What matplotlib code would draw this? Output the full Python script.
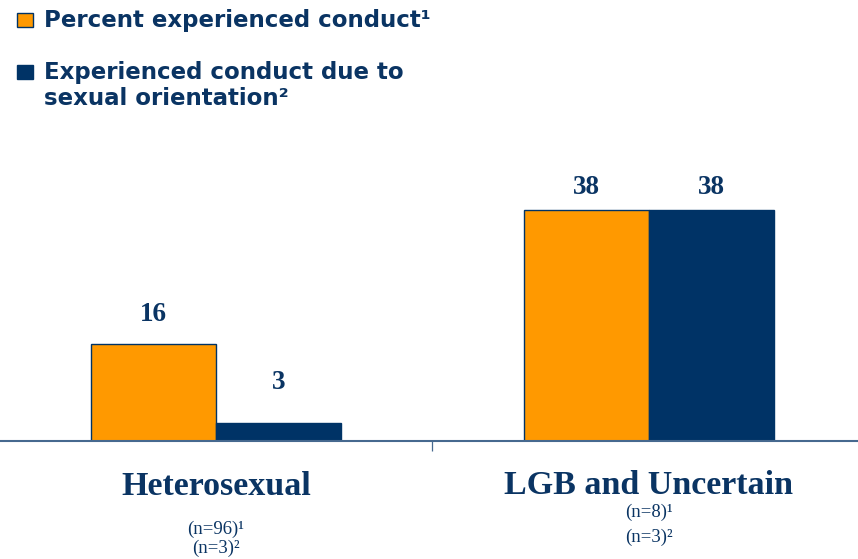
import matplotlib.pyplot as plt
from matplotlib.patches import Rectangle
from matplotlib.transforms import blended_transform_factory

categories = ["Heterosexual", "LGB and Uncertain"]
pct_conduct = [16, 38]
pct_due_to_orientation = [3, 38]
n_labels = [["(n=96)\u00b9", "(n=3)\u00b2"], ["(n=8)\u00b9", "(n=3)\u00b2"]]
series_names = [["Percent experienced conduct\u00b9"],
                ["Experienced conduct due to", "sexual orientation\u00b2"]]

ORANGE = "#FF9900"
NAVY = "#003366"
TEXT = "#0A3463"
LINE = "#46698F"
W, H = 858, 559


def fy(px):
    # pixel row from top -> figure fraction
    return 1 - px / H


def main():
    fig = plt.figure(figsize=(W / 100, H / 100), dpi=100)
    ax = fig.add_axes([0, 118 / H, 1, 419 / H])
    ax.set_xlim(-0.499, 1.483)
    ax.set_ylim(0, 419 / 6.08)

    w = 0.288
    xs = range(len(categories))
    b1 = ax.bar([x - w / 2 for x in xs], pct_conduct, w, color=ORANGE,
                edgecolor=NAVY, linewidth=1.0)
    b2 = ax.bar([x + w / 2 for x in xs], pct_due_to_orientation, w, color=NAVY,
                edgecolor=NAVY, linewidth=1.0)

    # value labels, baseline offset above bar top in px
    offs = [[23, 16], [34, 16]]
    for s, bars in enumerate([b1, b2]):
        for i, r in enumerate(bars):
            ax.annotate(f"{r.get_height():g}",
                        (r.get_x() + r.get_width() / 2, r.get_height()),
                        xytext=(0, offs[s][i] * 0.72), textcoords="offset points",
                        ha="center", va="baseline", fontsize=19.5, fontweight="bold",
                        family="Liberation Serif", color=TEXT)

    for sp in ["top", "right", "left"]:
        ax.spines[sp].set_visible(False)
    ax.spines["bottom"].set_color(LINE)
    ax.spines["bottom"].set_linewidth(1.5)
    ax.set_yticks([])
    ax.set_xticks([0.5])
    ax.set_xticklabels([""])
    ax.tick_params(axis="x", length=7.5, width=0.9, color=LINE)

    tr = blended_transform_factory(ax.transData, fig.transFigure)
    label_base = [495, 494]
    n_base = [[534, 553], [517, 542]]
    for i, cat in enumerate(categories):
        ax.text(i, fy(label_base[i]), cat, transform=tr, ha="center",
                va="baseline", fontsize=24.5, fontweight="bold",
                family="Liberation Serif", color=TEXT)
        for j, t in enumerate(n_labels[i]):
            ax.text(i, fy(n_base[i][j]), t, transform=tr, ha="center",
                    va="baseline", fontsize=13.5, family="Liberation Serif",
                    color=TEXT)

    # hand-made legend: square next to first line of each entry
    legend_rows = [(13, 27, ORANGE), (65, 79, NAVY)]
    for (top, base, col), lines in zip(legend_rows, series_names):
        fig.patches.append(Rectangle((17 / W, fy(base)), 16 / W, (base - top) / H,
                                     transform=fig.transFigure, facecolor=col,
                                     edgecolor=NAVY, linewidth=1.0))
        for k, line in enumerate(lines):
            fig.text(44 / W, fy(base + 26 * k), line, ha="left", va="baseline",
                     fontsize=16.5, fontweight="bold", family="DejaVu Sans",
                     color=TEXT)

    fig.savefig("out.png", dpi=100)


if __name__ == "__main__":
    main()
